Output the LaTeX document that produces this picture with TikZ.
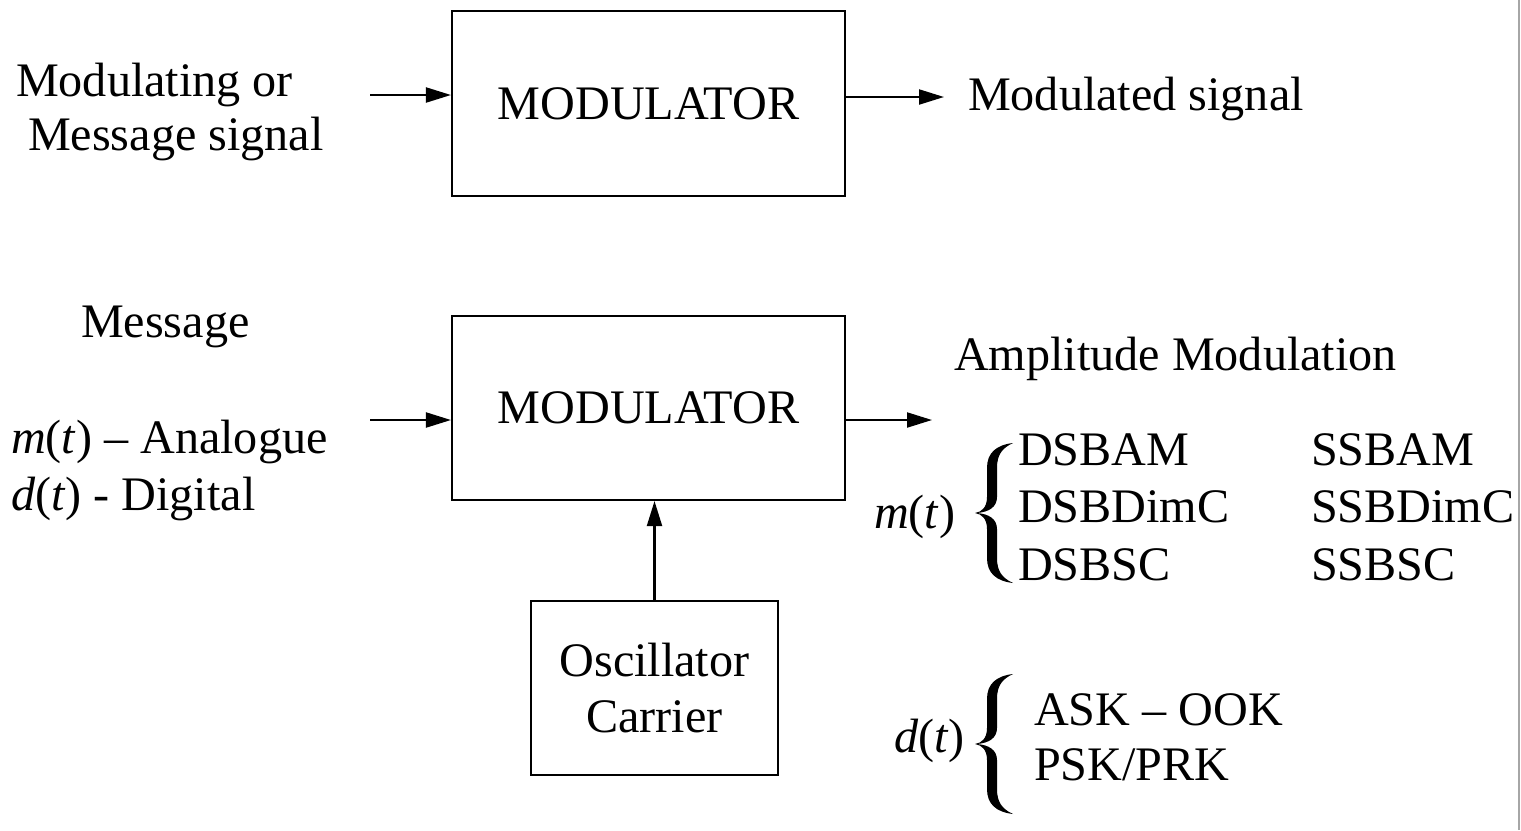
\documentclass[tikz,border=0pt]{standalone}
\usepackage{fontspec}
\setmainfont{Liberation Serif}
\usetikzlibrary{arrows.meta}
\newcommand{\sigt}[1]{\textit{#1}(\textit{t})}

\begin{document}
\begin{tikzpicture}[>={Triangle[length=0.25cm,width=0.15cm]},line width=0.6pt,
    every node/.style={font=\fontsize{13.7}{16.2}\selectfont},
    block/.style={draw,inner sep=0pt,align=center},
    txt/.style={anchor=base west,inner sep=0pt},
    curly/.pic={\fill (0.19,0.70) .. controls (0.02,0.68) and (-0.07,0.60) .. (-0.07,0.45)
        -- (-0.07,0.16) .. controls (-0.07,0.06) and (-0.12,0.01) .. (-0.19,0)
        .. controls (-0.12,-0.01) and (-0.07,-0.06) .. (-0.07,-0.16)
        -- (-0.07,-0.45) .. controls (-0.07,-0.60) and (0.02,-0.68) .. (0.19,-0.70)
        .. controls (0.08,-0.65) and (0.03,-0.58) .. (0.03,-0.45)
        -- (0.03,-0.16) .. controls (0.03,-0.06) and (-0.05,-0.01) .. (-0.17,0)
        .. controls (-0.05,0.01) and (0.03,0.06) .. (0.03,0.16)
        -- (0.03,0.45) .. controls (0.03,0.58) and (0.08,0.65) .. (0.19,0.70) -- cycle;}]
    \useasboundingbox (0,0) rectangle (15.21,8.30);
    % upper modulator
    \node[block,minimum width=3.93cm,minimum height=1.85cm] (mod1) at (6.485,7.265) {MODULATOR};
    \node[txt] (msgin1) at (0.15,7.34) {Modulating or};
    \node[txt] (msgin2) at (0.27,6.80) {Message signal};
    \node[txt] (modout) at (9.67,7.20) {Modulated signal};
    \coordinate (in1) at (3.70,7.35);
    \coordinate (out1) at (9.44,7.33);
    \draw[->] (in1) -- (in1 -| mod1.west);
    \draw[->] (mod1.east |- out1) -- (out1);
    % lower modulator with carrier
    \node[block,minimum width=3.93cm,minimum height=1.84cm] (mod2) at (6.485,4.22) {MODULATOR};
    \node[block,minimum width=2.47cm,minimum height=1.74cm] (osc) at (6.545,1.42) {Oscillator\\Carrier};
    \node[txt] (msg) at (0.80,4.93) {Message};
    \node[txt] (analog) at (0.10,3.77) {\sigt{m} -- Analogue};
    \node[txt] (digit) at (0.10,3.20) {\sigt{d} - Digital};
    \coordinate (in2) at (3.70,4.10);
    \coordinate (out2) at (9.32,4.10);
    \draw[->] (in2) -- (in2 -| mod2.west);
    \draw[->] (mod2.east |- out2) -- (out2);
    \draw[->] (osc.north) -- (osc.north |- mod2.south);
    % kinds of amplitude modulation
    \node[txt] (amtitle) at (9.53,4.60) {Amplitude Modulation};
    \node[txt] (mt) at (8.73,3.02) {\sigt{m}};
    \pic at (9.94,3.17) {curly};
    \foreach \name [count=\i] in {DSBAM,DSBDimC,DSBSC}
        \node[txt] (dsb\i) at (10.17,4.225-0.575*\i) {\name};
    \foreach \name [count=\i] in {SSBAM,SSBDimC,SSBSC}
        \node[txt] (ssb\i) at (13.10,4.225-0.575*\i) {\name};
    \node[txt] (dt) at (8.93,0.78) {\sigt{d}};
    \pic at (9.94,0.86) {curly};
    \node[txt] (ask) at (10.33,1.05) {ASK -- OOK};
    \node[txt] (psk) at (10.33,0.50) {PSK/PRK};
    % right edge
    \draw[gray!70,line width=0.5pt] (15.19,0) -- (15.19,8.30);
\end{tikzpicture}
\end{document}
